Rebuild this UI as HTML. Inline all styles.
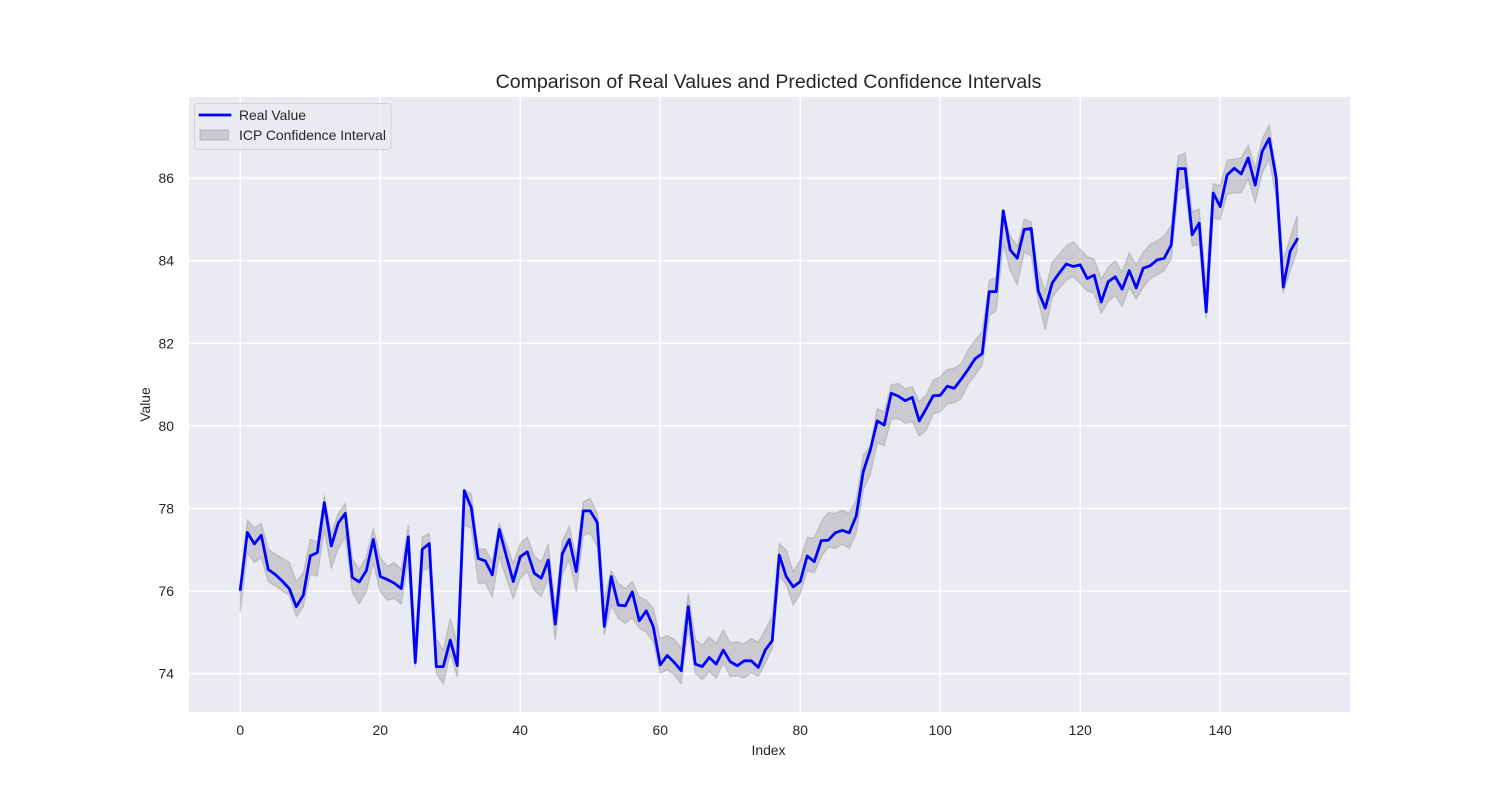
<!DOCTYPE html>
<html lang="en">
<head>
<meta charset="utf-8">
<title>Comparison of Real Values and Predicted Confidence Intervals</title>
<style>
html,body{margin:0;padding:0;background:#fff;width:1500px;height:800px;overflow:hidden}
svg{display:block}
text{font-family:"Liberation Sans",Arial,sans-serif;fill:#262626}
</style>
</head>
<body>
<svg id="chart" xmlns="http://www.w3.org/2000/svg" width="1500" height="800" viewBox="0 0 1500 800">
  <rect x="189" y="97" width="1161" height="615" fill="#eaeaf2"/>
  <g id="grid"></g>
  <path id="band" fill="#808080" fill-opacity="0.3" stroke="#808080" stroke-opacity="0.3" stroke-width="1.39"/>
  <path id="line" fill="none" stroke="#0000ff" stroke-width="2.78" stroke-linejoin="round" stroke-linecap="square"/>
  <g id="xticks"></g>
  <g id="yticks"></g>
  <text x="768.5" y="88" font-size="19.55" text-anchor="middle">Comparison of Real Values and Predicted Confidence Intervals</text>
  <text x="768.5" y="755" font-size="13.9" text-anchor="middle">Index</text>
  <text x="0" y="0" transform="translate(150,404.5) rotate(-90)" font-size="13.9" text-anchor="middle">Value</text>
  <g>
    <rect x="194.5" y="103.5" width="196.5" height="46" rx="3" ry="3" fill="#eaeaf2" fill-opacity="0.8" stroke="#cccccc" stroke-opacity="0.8" stroke-width="1"/>
    <line x1="200" y1="115" x2="230" y2="115" stroke="#0000ff" stroke-width="2.78" stroke-linecap="square"/>
    <text x="239" y="120" font-size="13.9">Real Value</text>
    <rect x="200" y="130" width="28.5" height="10" fill="#808080" fill-opacity="0.3" stroke="#808080" stroke-opacity="0.3" stroke-width="1.39"/>
    <text x="239" y="140" font-size="13.95">ICP Confidence Interval</text>
  </g>
</svg>
<script>
const xTickValues = [0, 20, 40, 60, 80, 100, 120, 140];
const yTickValues = [74, 76, 78, 80, 82, 84, 86];
const realValues = [
  76.04,77.42,77.14,77.35,76.52,76.40,76.24,76.06,75.62,75.90,
  76.85,76.93,78.14,77.09,77.65,77.88,76.33,76.22,76.49,77.25,
  76.35,76.28,76.19,76.06,77.31,74.27,77.01,77.15,74.17,74.17,
  74.81,74.19,78.43,78.02,76.79,76.73,76.39,77.49,76.85,76.23,
  76.83,76.95,76.43,76.31,76.75,75.20,76.90,77.25,76.47,77.94,
  77.94,77.66,75.14,76.35,75.66,75.64,75.98,75.28,75.52,75.14,
  74.21,74.44,74.27,74.07,75.62,74.23,74.17,74.39,74.23,74.57,
  74.29,74.19,74.31,74.31,74.15,74.57,74.80,76.87,76.35,76.10,
  76.23,76.85,76.71,77.22,77.23,77.41,77.47,77.41,77.82,78.89,
  79.41,80.12,80.02,80.79,80.72,80.61,80.69,80.12,80.42,80.73,
  80.74,80.96,80.91,81.13,81.37,81.63,81.75,83.25,83.25,85.21,
  84.26,84.06,84.76,84.78,83.27,82.85,83.46,83.70,83.92,83.86,
  83.90,83.57,83.65,83.00,83.49,83.61,83.31,83.76,83.34,83.82,
  83.88,84.02,84.06,84.38,86.23,86.23,84.63,84.91,82.76,85.64,
  85.31,86.08,86.24,86.10,86.49,85.83,86.65,86.96,86.00,83.36,
  84.23,84.52
];
const upperValues = [
  76.05,77.72,77.53,77.64,77.01,76.90,76.79,76.69,76.23,76.43,
  77.25,77.19,78.32,77.40,77.88,78.12,76.79,76.52,76.83,77.52,
  76.81,76.60,76.69,76.52,77.60,74.95,77.31,77.40,74.85,74.57,
  75.34,74.73,78.46,78.35,77.02,77.02,76.71,77.65,77.15,76.67,
  77.15,77.31,76.85,76.71,77.14,75.62,77.20,77.57,76.81,78.16,
  78.24,77.88,75.80,76.49,76.19,76.06,76.23,75.86,75.77,75.58,
  74.85,74.92,74.83,74.61,75.94,74.83,74.69,74.89,74.73,75.06,
  74.75,74.77,74.72,74.85,74.76,75.06,75.40,77.15,76.99,76.47,
  76.75,77.30,77.28,77.68,77.90,77.88,77.96,77.88,78.20,79.29,
  79.50,80.42,80.34,80.99,81.03,80.90,80.95,80.58,80.75,81.11,
  81.19,81.37,81.39,81.51,81.84,82.08,82.28,83.52,83.60,85.23,
  84.60,84.36,85.01,84.93,83.76,83.27,83.96,84.16,84.36,84.46,
  84.28,84.10,84.04,83.56,83.84,84.00,83.72,84.19,83.90,84.20,
  84.40,84.48,84.60,84.85,86.54,86.61,85.19,85.25,83.44,85.86,
  85.82,86.44,86.46,86.49,86.80,86.24,86.95,87.28,86.18,84.00,
  84.56,85.09
];
const lowerValues = [
  75.48,76.93,76.69,76.81,76.23,76.12,76.00,75.90,75.38,75.62,
  76.41,76.36,77.48,76.55,77.03,77.31,75.96,75.69,75.98,76.67,
  75.98,75.78,75.82,75.68,76.75,74.15,76.49,76.57,74.01,73.75,
  74.49,73.91,77.60,77.52,76.19,76.19,75.86,76.83,76.31,75.82,
  76.31,76.47,76.02,75.86,76.31,74.80,76.39,76.75,75.98,77.35,
  77.40,77.07,74.94,75.66,75.34,75.22,75.36,75.10,75.00,74.77,
  74.01,74.09,73.97,73.75,75.10,74.01,73.85,74.05,73.89,74.25,
  73.93,73.95,73.89,74.02,73.93,74.25,74.61,76.35,76.15,75.66,
  75.93,76.49,76.44,76.83,77.06,77.03,77.13,77.03,77.40,78.45,
  78.81,79.59,79.52,80.16,80.18,80.06,80.10,79.75,79.90,80.29,
  80.34,80.53,80.56,80.66,81.01,81.23,81.47,82.67,82.79,84.40,
  83.76,83.42,84.20,84.12,83.03,82.32,83.11,83.33,83.52,83.62,
  83.44,83.27,83.21,82.73,83.01,83.15,82.89,83.35,83.07,83.35,
  83.56,83.66,83.76,84.04,85.71,85.78,84.36,84.39,82.59,85.03,
  85.00,85.61,85.64,85.65,85.98,85.41,86.12,86.46,85.53,83.21,
  83.76,84.24
];

const SVG_NS = 'http://www.w3.org/2000/svg';
const plotLeft = 189, plotRight = 1350, plotTop = 97, plotBottom = 712;
function xScale(v) { return 240.3 + v * 6.9993; }
function yScale(v) { return 673.6 - (v - 74) * 41.29; }

const gridGroup = document.getElementById('grid');
const xTickGroup = document.getElementById('xticks');
const yTickGroup = document.getElementById('yticks');

xTickValues.forEach(function (v) {
  const gl = document.createElementNS(SVG_NS, 'line');
  gl.setAttribute('x1', xScale(v));
  gl.setAttribute('x2', xScale(v));
  gl.setAttribute('y1', plotTop);
  gl.setAttribute('y2', plotBottom);
  gl.setAttribute('stroke', '#ffffff');
  gl.setAttribute('stroke-width', '1.39');
  
  
  gridGroup.appendChild(gl);
  const t = document.createElementNS(SVG_NS, 'text');
  t.setAttribute('x', xScale(v));
  t.setAttribute('y', 735);
  t.setAttribute('font-size', '13.9');
  t.setAttribute('text-anchor', 'middle');
  
  
  t.textContent = String(v);
  xTickGroup.appendChild(t);
});

yTickValues.forEach(function (v) {
  const gl = document.createElementNS(SVG_NS, 'line');
  gl.setAttribute('x1', plotLeft);
  gl.setAttribute('x2', plotRight);
  gl.setAttribute('y1', yScale(v));
  gl.setAttribute('y2', yScale(v));
  gl.setAttribute('stroke', '#ffffff');
  gl.setAttribute('stroke-width', '1.39');
  
  
  gridGroup.appendChild(gl);
  const t = document.createElementNS(SVG_NS, 'text');
  t.setAttribute('x', 174);
  t.setAttribute('y', yScale(v) + 5);
  t.setAttribute('font-size', '13.9');
  t.setAttribute('text-anchor', 'end');
  
  
  t.textContent = String(v);
  yTickGroup.appendChild(t);
});

const upperPts = upperValues.map(function (v, i) { return xScale(i).toFixed(2) + ' ' + yScale(v).toFixed(2); });
const lowerPts = lowerValues.map(function (v, i) { return xScale(i).toFixed(2) + ' ' + yScale(v).toFixed(2); }).reverse();
document.getElementById('band').setAttribute('d', 'M' + upperPts.concat(lowerPts).join('L') + 'Z');
document.getElementById('line').setAttribute('d', 'M' + realValues.map(function (v, i) { return xScale(i).toFixed(2) + ' ' + yScale(v).toFixed(2); }).join('L'));
</script>
</body>
</html>
